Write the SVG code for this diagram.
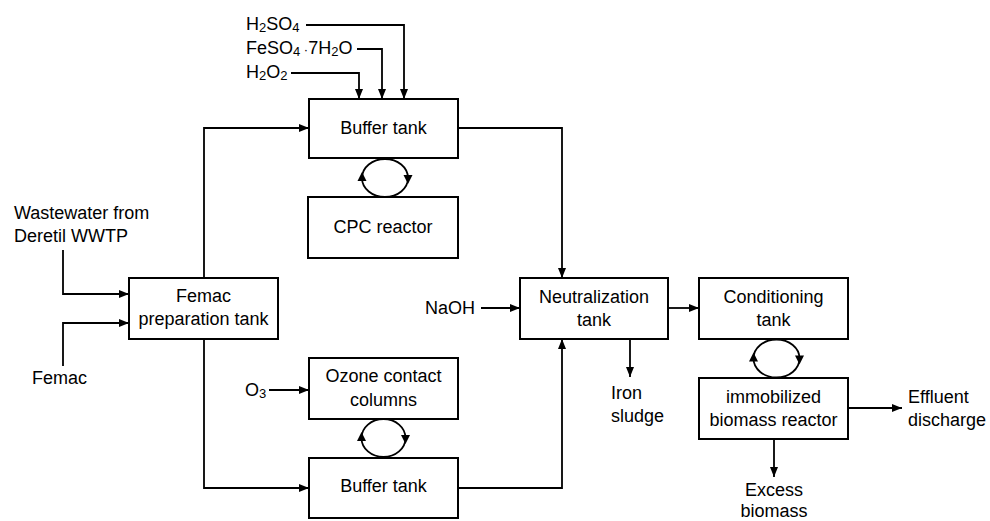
<svg xmlns="http://www.w3.org/2000/svg" width="990" height="521" viewBox="0 0 990 521">
<style>
text{font-family:"Liberation Sans",Arial,sans-serif;font-size:18px;fill:#000}
.c{text-anchor:middle}
.box{fill:#fff;stroke:#000;stroke-width:2}
.ln{fill:none;stroke:#000;stroke-width:1.8}
.sub{font-size:13px}
.loop{fill:none;stroke:#000;stroke-width:1.8}
</style>
<defs>
<marker id="ah" viewBox="0 0 10 8" refX="10" refY="4" markerWidth="10" markerHeight="8" markerUnits="userSpaceOnUse" orient="auto">
<path d="M0,0 L10,4 L0,8 z" fill="#000"/>
</marker>
</defs>
<rect width="990" height="521" fill="#fff"/>
<g id="connectors">
<path class="ln" d="M306,25 H404 V99" marker-end="url(#ah)"/>
<path class="ln" d="M357,49 H382 V99" marker-end="url(#ah)"/>
<path class="ln" d="M291,73 H359 V99" marker-end="url(#ah)"/>
<path class="ln" d="M204,278 V128 H309" marker-end="url(#ah)"/>
<path class="ln" d="M204,339 V488 H309" marker-end="url(#ah)"/>
<path class="ln" d="M63,250 V294 H129" marker-end="url(#ah)"/>
<path class="ln" d="M63,366 V323 H129" marker-end="url(#ah)"/>
<path class="ln" d="M269,390 H309" marker-end="url(#ah)"/>
<path class="ln" d="M458,128 H562 V278" marker-end="url(#ah)"/>
<path class="ln" d="M458,488 H562 V339" marker-end="url(#ah)"/>
<path class="ln" d="M481,308 H520" marker-end="url(#ah)"/>
<path class="ln" d="M630,339 V377" marker-end="url(#ah)"/>
<path class="ln" d="M668,308 H699" marker-end="url(#ah)"/>
<path class="ln" d="M848,408 H902" marker-end="url(#ah)"/>
<path class="ln" d="M774,439 V477" marker-end="url(#ah)"/>
</g>
<g id="loop1">
<ellipse class="loop" cx="385" cy="178" rx="23" ry="19"/>
<polygon points="362,172 357.5,181 366.5,181"/>
<polygon points="408,184 403.5,175 412.5,175"/>
</g>
<g id="loop2">
<ellipse class="loop" cx="383.5" cy="438" rx="22" ry="19"/>
<polygon points="361.5,432 357,441 366,441"/>
<polygon points="405.5,444 401,435 410,435"/>
</g>
<g id="loop3">
<ellipse class="loop" cx="776.5" cy="358.5" rx="23" ry="19"/>
<polygon points="753.5,352.5 749,361.5 758,361.5"/>
<polygon points="799.5,364.5 795,355.5 804,355.5"/>
</g>
<g id="buffer-top">
<rect class="box" x="309" y="99" width="149" height="59"/>
<text class="c" x="383.5" y="134">Buffer tank</text>
</g>
<g id="cpc">
<rect class="box" x="308" y="197" width="150" height="61"/>
<text class="c" x="383" y="233">CPC reactor</text>
</g>
<g id="prep">
<rect class="box" x="129" y="278" width="149" height="61"/>
<text class="c" x="203.5" y="302">Femac</text>
<text class="c" x="203.5" y="325">preparation tank</text>
</g>
<g id="ozone">
<rect class="box" x="309" y="358" width="149" height="61"/>
<text class="c" x="383.5" y="382">Ozone contact</text>
<text class="c" x="383.5" y="406">columns</text>
</g>
<g id="buffer-bottom">
<rect class="box" x="309" y="458" width="149" height="60"/>
<text class="c" x="383.5" y="492">Buffer tank</text>
</g>
<g id="neutralization">
<rect class="box" x="520" y="278" width="148" height="61"/>
<text class="c" x="594" y="303">Neutralization</text>
<text class="c" x="594" y="326">tank</text>
</g>
<g id="conditioning">
<rect class="box" x="699" y="278" width="149" height="61"/>
<text class="c" x="773.5" y="303">Conditioning</text>
<text class="c" x="773.5" y="326">tank</text>
</g>
<g id="immobilized">
<rect class="box" x="699" y="378" width="149" height="61"/>
<text class="c" x="773.5" y="403">immobilized</text>
<text class="c" x="773.5" y="426">biomass reactor</text>
</g>
<g id="labels">
<text x="246" y="30">H<tspan class="sub" dy="2">2</tspan><tspan dy="-2">SO</tspan><tspan class="sub" dy="2">4</tspan></text>
<text x="246" y="54">FeSO<tspan class="sub" dy="2">4</tspan><tspan dy="-2" font-size="13"> ·</tspan>7H<tspan class="sub" dy="2">2</tspan><tspan dy="-2">O</tspan></text>
<text x="246" y="78">H<tspan class="sub" dy="2">2</tspan><tspan dy="-2">O</tspan><tspan class="sub" dy="2">2</tspan></text>
<text x="14" y="219">Wastewater from</text>
<text x="14" y="242">Deretil WWTP</text>
<text x="32" y="384">Femac</text>
<text x="245" y="396">O<tspan class="sub" dy="2">3</tspan></text>
<text x="425" y="314">NaOH</text>
<text x="611" y="399">Iron</text>
<text x="611" y="422">sludge</text>
<text x="908" y="403">Effluent</text>
<text x="908" y="426">discharge</text>
<text class="c" x="774" y="496">Excess</text>
<text class="c" x="774" y="517">biomass</text>
</g>
</svg>
